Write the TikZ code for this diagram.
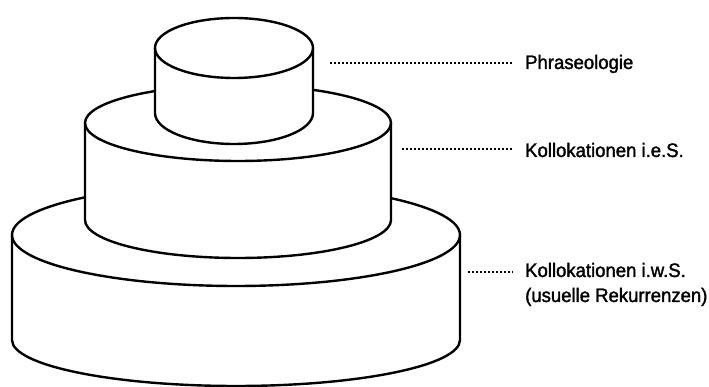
\documentclass[tikz,border=0pt]{standalone}
\usepackage{fontspec}
\setmainfont{Liberation Sans}[FakeStretch=0.95,FakeBold=1.6]
% cx, rx, ytop, ybot, ry top, ry bottom (pixel coordinates, y downwards)
\newcommand\drawcyl[6]{%
  \fill[white] ({#1-#2},{387-#3}) arc[start angle=180,end angle=0,x radius=#2,y radius=#5]
     -- ({#1+#2},{387-#4}) arc[start angle=360,end angle=180,x radius=#2,y radius=#6] -- cycle;
  \draw[outline] (#1,{387-#3}) ellipse[x radius=#2,y radius=#5];
  \draw[outline] ({#1-#2},{387-#3}) -- ({#1-#2},{387-#4})
     arc[start angle=180,end angle=360,x radius=#2,y radius=#6] -- ({#1+#2},{387-#3});
}
\begin{document}
\begin{tikzpicture}[x=1pt,y=1pt,
  outline/.style={line width=2.4pt, line join=round},
  dotline/.style={line width=2.4pt, dash pattern=on 2pt off 2pt},
  lbl/.style={inner sep=0pt, anchor=base west, font=\fontsize{19.5}{25}\selectfont, align=left}]
\useasboundingbox (0,0) rectangle (709,387);
% cylinders, bottom to top
\drawcyl{236}{224}{235}{340}{51}{46}
\drawcyl{238}{153}{123}{220}{38}{38}
\drawcyl{234}{79}{48}{113}{30}{31}
% labels
\node[lbl] (phr) at (525,{387-69}) {Phraseologie};
\node[lbl] (kes) at (525,{387-157}) {Kollokationen i.e.S.};
\node[lbl] (kws) at (525,{387-302}) {Kollokationen i.w.S.\\(usuelle Rekurrenzen)};
% dotted leaders
\coordinate (d1) at (330,{387-63});
\coordinate (d2) at (402,{387-149});
\coordinate (d3) at (468,{387-272});
\draw[dotline] (d1) -- (513,{387-63});
\draw[dotline] (d2) -- (513,{387-149});
\draw[dotline] (d3) -- (513,{387-272});
\end{tikzpicture}
\end{document}
